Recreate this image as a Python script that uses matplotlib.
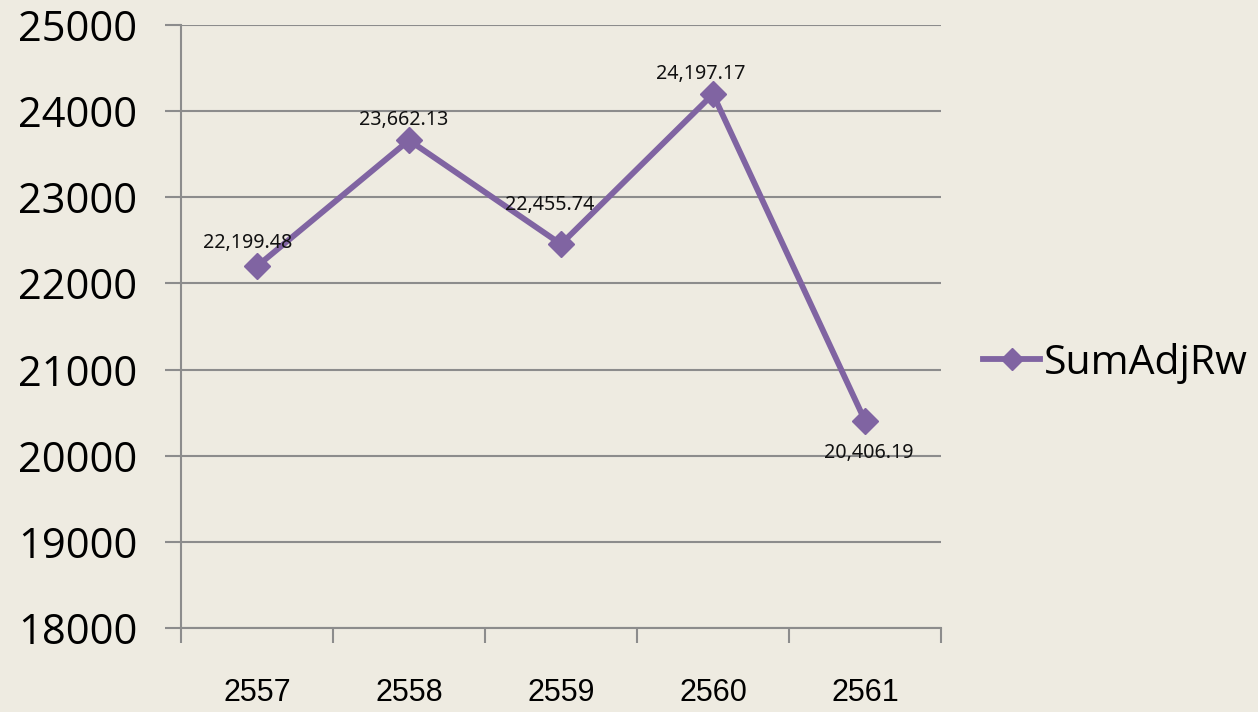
import matplotlib.pyplot as plt
from matplotlib.lines import Line2D

years = ["2557", "2558", "2559", "2560", "2561"]
values = [22199.48, 23662.13, 22455.74, 24197.17, 20406.19]
# label offsets (pixels) relative to each point
label_dx = [-9, -5, -11, -12, 4]
label_dy = [23, 20, 39, 20, -32]

bg = "#eeebe1"
purple = "#8064a2"
grey = "#8c8c8c"

fig = plt.figure(figsize=(12.58, 7.12), dpi=100, facecolor=bg)
ax = fig.add_axes([0.1439, 0.1180, 0.6041, 0.8469], facecolor=bg)

x = list(range(len(years)))
ax.plot(x, values, color=purple, linewidth=4.2, marker="D", markersize=13,
        label="SumAdjRw", zorder=3)

for xi, v, dx, dy in zip(x, values, label_dx, label_dy):
    ax.annotate(f"{v:,.2f}", (xi, v), xytext=(dx, dy), textcoords="offset pixels",
                ha="center", va="center", fontsize=14.2, family="Noto Sans",
                color="#111111", zorder=4)

ax.set_xlim(-0.5, len(years) - 0.5)
ax.set_ylim(18000, 25000)
ax.set_yticks(range(18000, 25001, 1000))
ax.set_yticklabels([str(t) for t in range(18000, 25001, 1000)],
                   family="Open Sans", fontsize=30)
ax.yaxis.grid(True, color=grey, linewidth=1.5)
ax.set_axisbelow(True)

# category labels between boundary ticks
ax.set_xticks([i - 0.5 for i in range(len(years) + 1)])
ax.set_xticklabels([])
ax.set_xticks(x, minor=True)
ax.set_xticklabels(years, minor=True, family="Liberation Sans", fontsize=22)
ax.tick_params(axis="x", which="major", length=11, width=1.5, color=grey, direction="out")
ax.tick_params(axis="x", which="minor", length=0, pad=36)
ax.tick_params(axis="y", length=11.5, width=1.5, color=grey, pad=20)

for s in ["top", "right"]:
    ax.spines[s].set_visible(False)
for s in ["left", "bottom"]:
    ax.spines[s].set_color(grey)
    ax.spines[s].set_linewidth(1.5)

handle = Line2D([], [], color=purple, linewidth=4.2, marker="D", markersize=11)
fig.legend([handle], ["SumAdjRw"], loc="center left", bbox_to_anchor=(0.752, 0.49),
           frameon=False, prop={"family": "Open Sans", "size": 29.5},
           handlelength=1.4, handletextpad=0.1)

fig.savefig("out.png", dpi=100, facecolor=bg)
